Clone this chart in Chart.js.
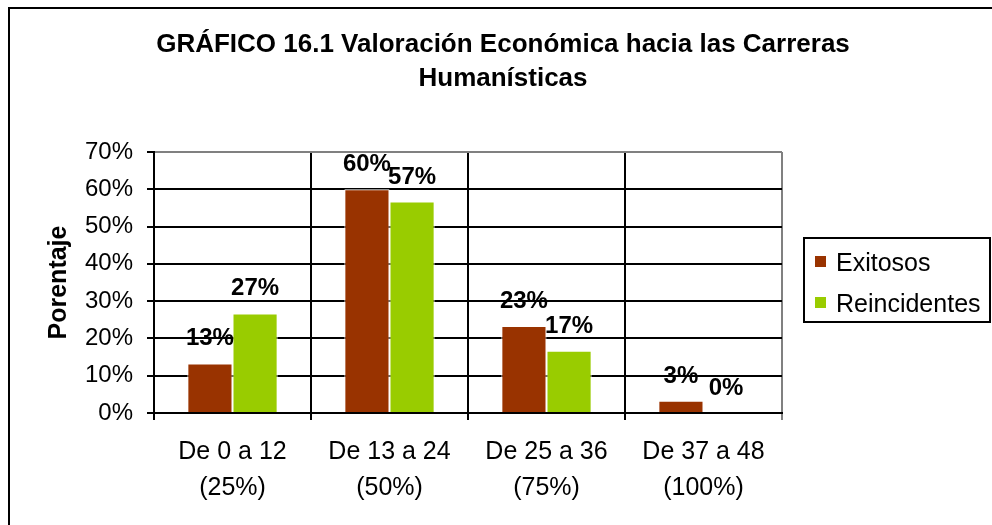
<!DOCTYPE html>
<html>
<head>
<meta charset="utf-8">
<script src="https://cdn.jsdelivr.net/npm/chart.js@4.4.1/dist/chart.umd.min.js"></script>
<style>
  html, body { margin: 0; padding: 0; background: #fff; overflow: hidden; }
  #marco { position: absolute; left: 8px; top: 7px; width: 1100px; height: 700px; border: 2px solid #000; }
  #grafico { position: absolute; left: 0; top: 0; }
</style>
</head>
<body>
<div id="marco"></div>
<canvas id="grafico" width="992" height="525"></canvas>
<script>
// Datos del gráfico
const titulo = ["GRÁFICO 16.1 Valoración Económica hacia las Carreras", "Humanísticas"];
const categorias = [["De 0 a 12", "(25%)"], ["De 13 a 24", "(50%)"], ["De 25 a 36", "(75%)"], ["De 37 a 48", "(100%)"]];
const series = ["Exitosos", "Reincidentes"];
const exitosos = [13.3, 60, 23.3, 3.3];
const reincidentes = [26.7, 56.7, 16.7, 0];
const ejeY = { min: 0, max: 70, paso: 10, titulo: "Porentaje" };

const fuente = "'Liberation Sans', Arial, sans-serif";
Chart.defaults.font.family = fuente;
Chart.defaults.color = "#000";

// Plugin para título, etiquetas de valor y leyenda
const extras = {
  id: "extras",
  afterDatasetsDraw(chart) {
    const ctx = chart.ctx;
    ctx.save();
    ctx.fillStyle = "#000";
    ctx.font = "bold 24px " + fuente;
    ctx.textAlign = "center";
    ctx.textBaseline = "alphabetic";
    chart.data.datasets.forEach((ds, d) => {
      const meta = chart.getDatasetMeta(d);
      meta.data.forEach((bar, i) => {
        ctx.fillText(Math.round(ds.data[i]) + "%", bar.x, bar.y - 18);
      });
    });
    ctx.restore();
  },
  afterDraw(chart) {
    const ctx = chart.ctx;
    ctx.save();
    // título
    ctx.fillStyle = "#000";
    ctx.font = "bold 26px " + fuente;
    ctx.textAlign = "center";
    ctx.fillText(titulo[0], 503, 52);
    ctx.fillText(titulo[1], 503, 86);

    // leyenda
    ctx.strokeStyle = "#000";
    ctx.lineWidth = 2;
    ctx.strokeRect(804, 238, 186, 84);
    ctx.font = "25px " + fuente;
    ctx.textAlign = "left";
    chart.data.datasets.forEach((ds, d) => {
      const y = 256 + d * 41;
      ctx.fillStyle = ds.backgroundColor;
      ctx.fillRect(815, y, 11, 11);
      ctx.fillStyle = "#000";
      ctx.fillText(ds.label, 836, y + 15);
    });
    ctx.restore();
  }
};

const data = {
  labels: categorias,
  datasets: [
    {
      label: series[0],
      data: exitosos,
      backgroundColor: "#993300",
      borderColor: "#fff",
      borderWidth: 1
    },
    {
      label: series[1],
      data: reincidentes,
      backgroundColor: "#99CC00",
      borderColor: "#fff",
      borderWidth: 1
    }
  ]
};

const config = {
  type: "bar",
  data,
  options: {
    responsive: false,
    animation: false,
    categoryPercentage: 0.575,
    barPercentage: 1,
    layout: { padding: { top: 152, right: 210, left: 0, bottom: 0 } },
    plugins: {
      legend: { display: false },
      title: { display: false },
      tooltip: { enabled: false }
    },
    scales: {
      x: {
        grid: {
          offset: true,
          color: (c) => (c.type === "tick" ? "#000" : "#808080"),
          lineWidth: 2,
          tickLength: 7
        },
        border: { color: "#000", width: 2 },
        ticks: { font: { size: 25, lineHeight: 1.45 }, padding: 14, maxRotation: 0 },
        afterFit(scale) { scale.height = 112; }
      },
      y: {
        min: ejeY.min,
        max: ejeY.max,
        grid: {
          color: (c) => (c.tick && c.tick.value === ejeY.max ? "#808080" : "#000"),
          tickColor: "#000",
          lineWidth: 2,
          tickLength: 7
        },
        border: { color: "#000", width: 2 },
        ticks: {
          stepSize: ejeY.paso,
          font: { size: 24 },
          padding: 14,
          callback: (v) => v + "%"
        },
        title: {
          display: true,
          text: ejeY.titulo,
          font: { size: 25, weight: "bold" },
          padding: { top: 44, bottom: 0 }
        },
        afterFit(scale) { scale.width = 154; }
      }
    }
  },
  plugins: [extras]
};

new Chart(document.getElementById("grafico"), config);
</script>
</body>
</html>
